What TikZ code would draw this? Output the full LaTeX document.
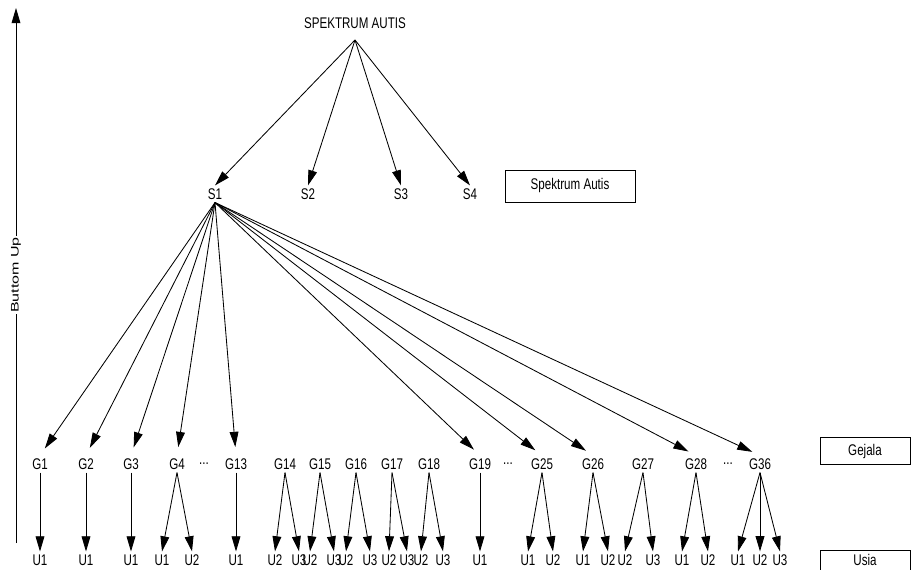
\documentclass[tikz,border=0pt]{standalone}
\usepackage{fontspec}
\setmainfont{Liberation Sans}[FakeStretch=0.75]
\usetikzlibrary{arrows.meta}

\begin{document}
\begin{tikzpicture}[font=\fontsize{11}{13}\selectfont, inner sep=2pt,
  arr/.style={-{Triangle[length=3.8mm,width=2.2mm]}, line width=0.6pt},
  legend/.style={draw, line width=0.6pt, inner sep=0pt, minimum width=2.25cm, minimum height=0.675cm}]
  \useasboundingbox (0,0) rectangle (22.8,14.225);
  \def\sy{9.375}\def\gy{2.625}\def\uy{0.225}
  % bottom-up axis on the left
  \coordinate (axb) at (0.4,0.65);
  \coordinate (axt) at (0.4,14.025);
  \draw[arr] (axb) -- (axt);
  \node[fill=white, rotate=90, inner sep=1pt] (bu) at (0.4,7.35) {\fontsize{7.8}{9}\selectfont\scalebox{1.95}[1]{Buttom Up}};
  % root and spectrum level
  \node[inner ysep=8pt] (root) at (8.875,13.65) {SPEKTRUM AUTIS};
  \node (s1) at (5.375,\sy) {S1};
  \node (s2) at (7.7,\sy) {S2};
  \node (s3) at (10.025,\sy) {S3};
  \node (s4) at (11.75,\sy) {S4};
  \draw[arr] (root.south) -- (s1.north);
  \draw[arr] (root.south) -- (s2.north);
  \draw[arr] (root.south) -- (s3.north);
  \draw[arr] (root.south) -- (s4.north);
  % legend boxes
  \node[legend, minimum width=3.25cm, minimum height=0.8cm] (lspek) at (14.25,9.575) {Spektrum Autis};
  \node[legend] (lgej) at (21.625,2.94) {Gejala};
  \node[legend, anchor=north, minimum height=0.5cm] (lusia) at (21.625,0.475) {Usia};
  % symptom level (gejala)
  \node (g1) at (1.0,\gy) {G1};   \node (g2) at (2.15,\gy) {G2};   \node (g3) at (3.275,\gy) {G3};
  \node (g4) at (4.425,\gy) {G4}; \node (gd1) at (5.1,\gy) {...};  \node (g13) at (5.9,\gy) {G13};
  \node (g14) at (7.125,\gy) {G14}; \node (g15) at (8.0,\gy) {G15}; \node (g16) at (8.9,\gy) {G16};
  \node (g17) at (9.8,\gy) {G17};   \node (g18) at (10.725,\gy) {G18}; \node (g19) at (12.0,\gy) {G19};
  \node (gd2) at (12.7,\gy) {...};  \node (g25) at (13.55,\gy) {G25}; \node (g26) at (14.825,\gy) {G26};
  \node (g27) at (16.075,\gy) {G27}; \node (g28) at (17.4,\gy) {G28}; \node (gd3) at (18.2,\gy) {...};
  \node (g36) at (19.0,\gy) {G36};
  % S1 to its symptoms
  \draw[arr, shorten >=6pt] (s1.south) -- (g1.north);
  \draw[arr, shorten >=6pt] (s1.south) -- (g2.north);
  \draw[arr, shorten >=6pt] (s1.south) -- (g3.north);
  \draw[arr, shorten >=6pt] (s1.south) -- (g4.north);
  \draw[arr, shorten >=6pt] (s1.south) -- (g13.north);
  \draw[arr, shorten >=6pt] (s1.south) -- (g19.north);
  \draw[arr, shorten >=6pt] (s1.south) -- (g25.north);
  \draw[arr, shorten >=6pt] (s1.south) -- (g26.north);
  \draw[arr, shorten >=6pt] (s1.south) -- (g28.north);
  \draw[arr, shorten >=6pt] (s1.south) -- (g36.north);
  % age level (usia)
  \node (u1) at (1.0,\uy) {U1};   \node (u2) at (2.15,\uy) {U1};   \node (u3) at (3.275,\uy) {U1};
  \node (u4a) at (4.05,\uy) {U1}; \node (u4b) at (4.8,\uy) {U2};   \node (u13) at (5.9,\uy) {U1};
  \node (u14a) at (6.875,\uy) {U2}; \node (u14b) at (7.475,\uy) {U3};
  \node (u15a) at (7.75,\uy) {U2};  \node (u15b) at (8.35,\uy) {U3};
  \node (u16a) at (8.65,\uy) {U2};  \node (u16b) at (9.25,\uy) {U3};
  \node (u17a) at (9.725,\uy) {U2}; \node (u17b) at (10.175,\uy) {U3};
  \node (u18a) at (10.525,\uy) {U2}; \node (u18b) at (11.075,\uy) {U3};
  \node (u19) at (12.0,\uy) {U1};
  \node (u25a) at (13.2,\uy) {U1};  \node (u25b) at (13.825,\uy) {U2};
  \node (u26a) at (14.575,\uy) {U1}; \node (u26b) at (15.2,\uy) {U2};
  \node (u27a) at (15.625,\uy) {U2}; \node (u27b) at (16.325,\uy) {U3};
  \node (u28a) at (17.05,\uy) {U1}; \node (u28b) at (17.7,\uy) {U2};
  \node (u36a) at (18.45,\uy) {U1}; \node (u36b) at (19.0,\uy) {U2}; \node (u36c) at (19.5,\uy) {U3};
  % symptoms to ages
  \draw[arr] (g1.south) -- (u1.north);
  \draw[arr] (g2.south) -- (u2.north);
  \draw[arr] (g3.south) -- (u3.north);
  \draw[arr] (g4.south) -- (u4a.north);   \draw[arr] (g4.south) -- (u4b.north);
  \draw[arr] (g13.south) -- (u13.north);
  \draw[arr] (g14.south) -- (u14a.north); \draw[arr] (g14.south) -- (u14b.north);
  \draw[arr] (g15.south) -- (u15a.north); \draw[arr] (g15.south) -- (u15b.north);
  \draw[arr] (g16.south) -- (u16a.north); \draw[arr] (g16.south) -- (u16b.north);
  \draw[arr] (g17.south) -- (u17a.north); \draw[arr] (g17.south) -- (u17b.north);
  \draw[arr] (g18.south) -- (u18a.north); \draw[arr] (g18.south) -- (u18b.north);
  \draw[arr] (g19.south) -- (u19.north);
  \draw[arr] (g25.south) -- (u25a.north); \draw[arr] (g25.south) -- (u25b.north);
  \draw[arr] (g26.south) -- (u26a.north); \draw[arr] (g26.south) -- (u26b.north);
  \draw[arr] (g27.south) -- (u27a.north); \draw[arr] (g27.south) -- (u27b.north);
  \draw[arr] (g28.south) -- (u28a.north); \draw[arr] (g28.south) -- (u28b.north);
  \draw[arr] (g36.south) -- (u36a.north); \draw[arr] (g36.south) -- (u36b.north); \draw[arr] (g36.south) -- (u36c.north);
\end{tikzpicture}
\end{document}
